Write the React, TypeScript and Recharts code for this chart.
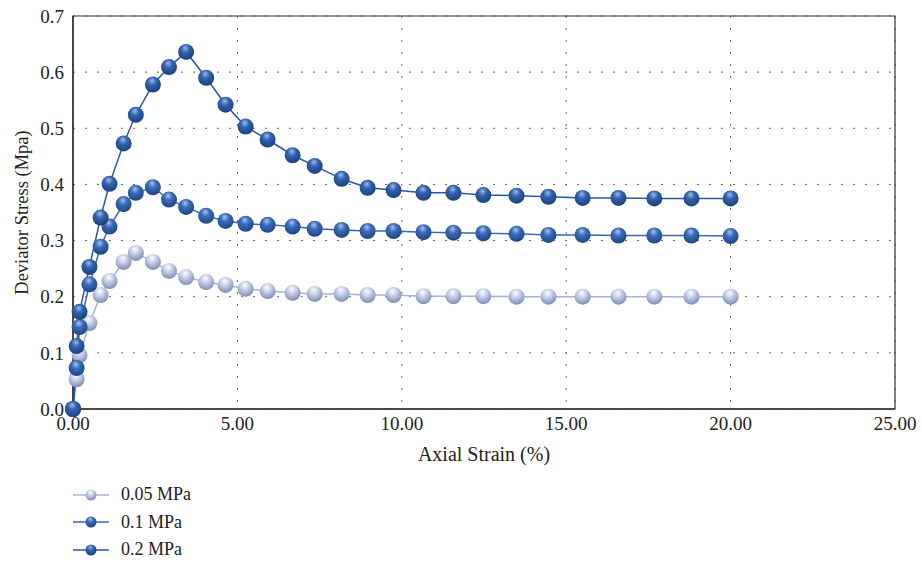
import {
  CartesianGrid,
  Line,
  LineChart,
  ReferenceArea,
  XAxis,
  YAxis,
} from "recharts";

// axial strain (%) shared by all three tests
const strain = [
  0, 0.11, 0.2, 0.5, 0.84, 1.11, 1.54, 1.91, 2.43, 2.92, 3.44, 4.05, 4.64,
  5.25, 5.92, 6.68, 7.35, 8.17, 8.96, 9.75, 10.66, 11.57, 12.48, 13.49, 14.46,
  15.5, 16.59, 17.68, 18.81, 20.0,
];

// deviator stress (MPa) per confining pressure
const stress005 = [
  0, 0.053, 0.096, 0.153, 0.203, 0.228, 0.262, 0.278, 0.262, 0.246, 0.235,
  0.226, 0.221, 0.214, 0.21, 0.207, 0.205, 0.205, 0.203, 0.203, 0.201, 0.201,
  0.201, 0.2, 0.2, 0.2, 0.2, 0.2, 0.2, 0.2,
];
const stress01 = [
  0, 0.073, 0.146, 0.222, 0.289, 0.325, 0.365, 0.385, 0.395, 0.373, 0.36,
  0.344, 0.335, 0.33, 0.328, 0.325, 0.321, 0.319, 0.317, 0.317, 0.315, 0.314,
  0.313, 0.312, 0.31, 0.31, 0.309, 0.309, 0.309, 0.308,
];
const stress02 = [
  0, 0.112, 0.173, 0.253, 0.341, 0.401, 0.473, 0.524, 0.578, 0.609, 0.636,
  0.59, 0.542, 0.503, 0.48, 0.452, 0.433, 0.41, 0.394, 0.39, 0.385, 0.385,
  0.381, 0.38, 0.378, 0.376, 0.376, 0.375, 0.375, 0.375,
];

const xTicks = [0, 5, 10, 15, 20, 25];
const yTicks = [0, 0.1, 0.2, 0.3, 0.4, 0.5, 0.6, 0.7];

const series = [
  { key: "s005", name: "0.05 MPa", values: stress005, line: "#a6b4da", grad: "ballLight" },
  { key: "s01", name: "0.1 MPa", values: stress01, line: "#3a69b0", grad: "ballMid" },
  { key: "s02", name: "0.2 MPa", values: stress02, line: "#2b579c", grad: "ballDark" },
];

const data = strain.map((x, i) => ({
  x,
  s005: stress005[i],
  s01: stress01[i],
  s02: stress02[i],
}));

const FONT = "'Liberation Serif', 'Times New Roman', serif";
const W = 922;
const H = 563;
const M = { top: 16, right: 27, left: 0, bottom: 102 };
const X_AXIS_H = 52;

const Gradients = () => (
  <defs>
    <radialGradient id="ballLight" cx="0.45" cy="0.35" r="0.65" fx="0.45" fy="0.25">
      <stop offset="0%" stopColor="#ffffff" />
      <stop offset="45%" stopColor="#c3cbe6" />
      <stop offset="100%" stopColor="#7d8bb6" />
    </radialGradient>
    <radialGradient id="ballMid" cx="0.45" cy="0.35" r="0.65" fx="0.45" fy="0.25">
      <stop offset="0%" stopColor="#a9c4ee" />
      <stop offset="40%" stopColor="#3b6cb8" />
      <stop offset="100%" stopColor="#1d4586" />
    </radialGradient>
    <radialGradient id="ballDark" cx="0.45" cy="0.35" r="0.65" fx="0.45" fy="0.25">
      <stop offset="0%" stopColor="#9dbbe9" />
      <stop offset="40%" stopColor="#3363b0" />
      <stop offset="100%" stopColor="#1a3f7e" />
    </radialGradient>
  </defs>
);

const ball = (grad: string, r: number) => (props: any) => {
  const { cx, cy, index } = props;
  if (cx == null || cy == null) return <g key={index} />;
  return <circle key={index} cx={cx} cy={cy} r={r} fill={`url(#${grad})`} />;
};

// rotated y title, centred on the plot height
const YTitle = () => {
  const cy = M.top + (H - M.top - M.bottom - X_AXIS_H) / 2;
  return (
    <text
      x={22}
      y={cy}
      transform={`rotate(-90 22 ${cy})`}
      textAnchor="middle"
      dominantBaseline="central"
      fill="#222"
      fontSize={18.5}
      fontFamily={FONT}
    >
      Deviator Stress (Mpa)
    </text>
  );
};

const LegendBox = () => (
  <div
    style={{
      position: "absolute",
      left: 73,
      top: 481,
      fontFamily: FONT,
      fontSize: 18,
      color: "#222",
    }}
  >
    {series.map((s) => (
      <div key={s.key} style={{ display: "flex", alignItems: "center", height: 27.5 }}>
        <svg width={36} height={14}>
          <Gradients />
          <line x1={0} y1={7} x2={36} y2={7} stroke={s.line} strokeWidth={1.5} />
          <circle cx={18} cy={7} r={5.5} fill={`url(#${s.grad})`} />
        </svg>
        <span style={{ marginLeft: 12 }}>{s.name}</span>
      </div>
    ))}
  </div>
);

export default function App() {
  return (
    <div style={{ position: "absolute", left: 0, top: 0, width: W, height: H, background: "#fff" }}>
      <LineChart width={W} height={H} data={data} margin={M}>
        <Gradients />
        <CartesianGrid stroke="#666" strokeDasharray="2 10" />
        <XAxis
          dataKey="x"
          type="number"
          domain={[0, 25]}
          ticks={xTicks}
          tickFormatter={(v: number) => v.toFixed(2)}
          tickLine={false}
          tickMargin={2}
          axisLine={{ stroke: "#333", strokeWidth: 1.5 }}
          height={X_AXIS_H}
          tick={{ fill: "#222", fontSize: 19, fontFamily: FONT }}
          label={{
            value: "Axial Strain (%)",
            position: "insideBottom",
            offset: 0,
            style: { fill: "#222", fontSize: 20, fontFamily: FONT },
          }}
        />
        <YAxis
          type="number"
          domain={[0, 0.7]}
          ticks={yTicks}
          tickFormatter={(v: number) => v.toFixed(1)}
          tickLine={false}
          tickMargin={3}
          axisLine={{ stroke: "#333", strokeWidth: 1.5 }}
          width={73}
          tick={{ fill: "#222", fontSize: 19, fontFamily: FONT }}
          label={YTitle}
        />
        <ReferenceArea x1={0} x2={25} y1={0} y2={0.7} fill="none" stroke="#333" strokeWidth={1.2} />
        {series.map((s) => (
          <Line
            key={s.key}
            dataKey={s.key}
            name={s.name}
            stroke={s.line}
            strokeWidth={1.5}
            dot={ball(s.grad, 8)}
            activeDot={false}
            isAnimationActive={false}
          />
        ))}
      </LineChart>
      <LegendBox />
    </div>
  );
}
